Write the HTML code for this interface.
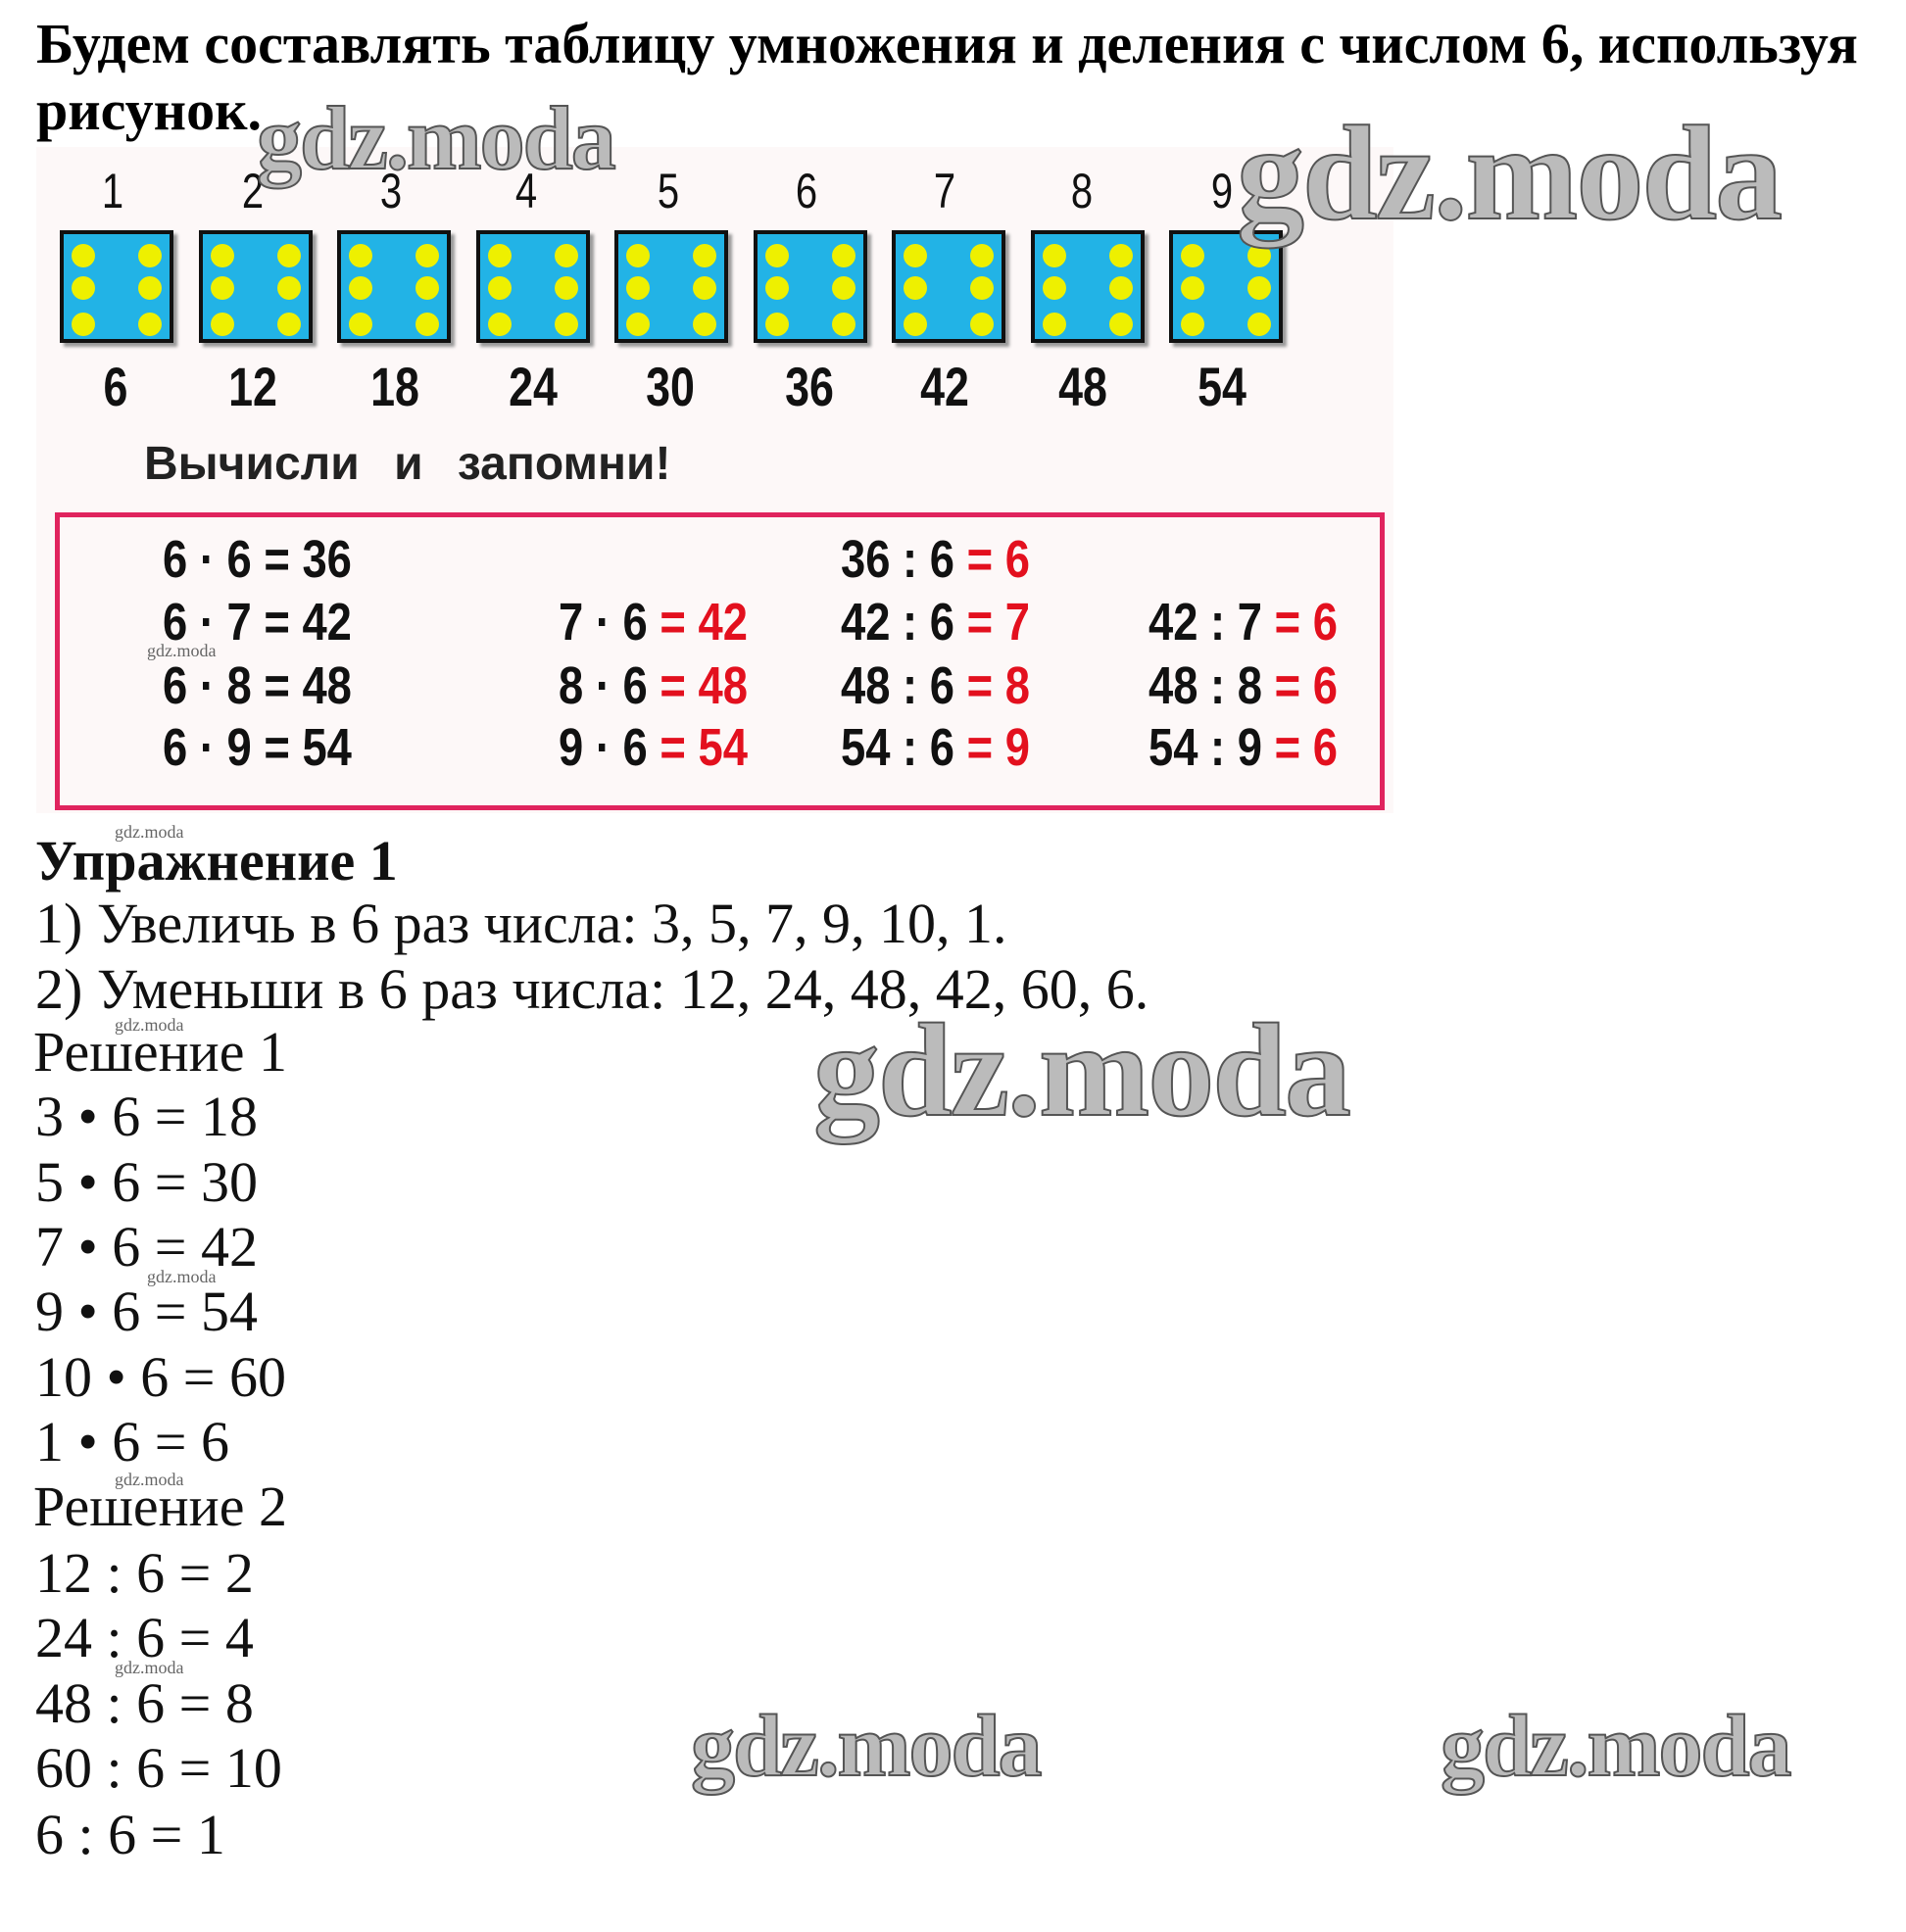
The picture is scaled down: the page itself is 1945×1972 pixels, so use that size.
<!DOCTYPE html>
<html><head><meta charset="utf-8"><style>
body{margin:0;width:1945px;height:1972px;background:#fff;position:relative;overflow:hidden;font-family:"Liberation Serif",serif}
.a{position:absolute;white-space:nowrap}
.t{font-weight:bold;font-size:58px;left:37px;line-height:1}
.s{font-size:58px;left:36px;line-height:1;color:#111}
.die{position:absolute;top:235px;width:108px;height:107px;background:#22b3e6;border:4px solid #111;box-shadow:4px 4px 3px #999}
.dot{position:absolute;width:24px;height:24px;border-radius:50%;background:#eef000}
.n{position:absolute;font-family:"Liberation Sans",sans-serif;font-size:50px;transform:translateX(-50%) scaleX(.8);color:#111}
.b{font-weight:bold;font-size:56px}
.e{position:absolute;font-family:"Liberation Sans",sans-serif;font-weight:bold;font-size:54px;transform:scaleX(.84);transform-origin:left;color:#111}
.r{color:#e3101e;font-weight:bold}
.w{position:absolute;font-family:"Liberation Serif",serif;font-weight:bold;color:#bbb;-webkit-text-stroke:2px #555;letter-spacing:-2px;line-height:1}
.ws{position:absolute;font-family:"Liberation Serif",serif;font-size:18px;color:#666;line-height:1}
</style></head><body>
<div style="position:absolute;left:37px;top:150px;width:1385px;height:680px;background:#fdf8f8"></div>
<div class="a t" style="top:16px;">Будем составлять таблицу умножения и деления с числом 6, используя</div>
<div class="a t" style="top:84px;">рисунок.</div>

<div class="n" style="left:115px;top:166px">1</div>
<div class="n" style="left:258px;top:166px">2</div>
<div class="n" style="left:399px;top:166px">3</div>
<div class="n" style="left:537px;top:166px">4</div>
<div class="n" style="left:682px;top:166px">5</div>
<div class="n" style="left:823px;top:166px">6</div>
<div class="n" style="left:964px;top:166px">7</div>
<div class="n" style="left:1104px;top:166px">8</div>
<div class="n" style="left:1247px;top:166px">9</div>

<div id="dice"></div>
<script>
var h='';for(var i=0;i<9;i++){var x=61+i*141.5;h+='<div class="die" style="left:'+x+'px">';
[[8,10],[8,43],[8,80],[76,10],[76,43],[76,80]].forEach(function(p){h+='<div class="dot" style="left:'+p[0]+'px;top:'+p[1]+'px"></div>'});h+='</div>';}
document.getElementById('dice').outerHTML=h;
</script>

<div class="n b" style="left:118px;top:362px">6</div>
<div class="n b" style="left:258px;top:362px">12</div>
<div class="n b" style="left:403px;top:362px">18</div>
<div class="n b" style="left:544px;top:362px">24</div>
<div class="n b" style="left:684px;top:362px">30</div>
<div class="n b" style="left:826px;top:362px">36</div>
<div class="n b" style="left:964px;top:362px">42</div>
<div class="n b" style="left:1105px;top:362px">48</div>
<div class="n b" style="left:1247px;top:362px">54</div>

<div class="a" style="left:147px;top:446px;font-family:'Liberation Sans',sans-serif;font-weight:bold;font-size:48px;color:#222;word-spacing:22px">Вычисли и запомни!</div>

<div style="position:absolute;left:56px;top:523px;width:1347px;height:294px;border:5px solid #e0245e"></div>

<div class="e" style="left:166px;top:540px">6 · 6 = 36</div>
<div class="e" style="left:166px;top:604px">6 · 7 = 42</div>
<div class="e" style="left:166px;top:669px">6 · 8 = 48</div>
<div class="e" style="left:166px;top:732px">6 · 9 = 54</div>
<div class="e" style="left:570px;top:604px">7 · 6 <span class="r">= 42</span></div>
<div class="e" style="left:570px;top:669px">8 · 6 <span class="r">= 48</span></div>
<div class="e" style="left:570px;top:732px">9 · 6 <span class="r">= 54</span></div>
<div class="e" style="left:858px;top:540px">36 : 6 <span class="r">= 6</span></div>
<div class="e" style="left:858px;top:604px">42 : 6 <span class="r">= 7</span></div>
<div class="e" style="left:858px;top:669px">48 : 6 <span class="r">= 8</span></div>
<div class="e" style="left:858px;top:732px">54 : 6 <span class="r">= 9</span></div>
<div class="e" style="left:1172px;top:604px">42 : 7 <span class="r">= 6</span></div>
<div class="e" style="left:1172px;top:669px">48 : 8 <span class="r">= 6</span></div>
<div class="e" style="left:1172px;top:732px">54 : 9 <span class="r">= 6</span></div>

<div class="a s" style="top:850px;font-weight:bold">Упражнение 1</div>
<div class="a s" style="top:914px">1) Увеличь в 6 раз числа: 3, 5, 7, 9, 10, 1.</div>
<div class="a s" style="top:981px">2) Уменьши в 6 раз числа: 12, 24, 48, 42, 60, 6.</div>
<div class="a s" style="top:1045px;left:34px">Решение 1</div>
<div class="a s" style="top:1111px">3 • 6 = 18</div>
<div class="a s" style="top:1178px">5 • 6 = 30</div>
<div class="a s" style="top:1244px">7 • 6 = 42</div>
<div class="a s" style="top:1310px">9 • 6 = 54</div>
<div class="a s" style="top:1377px">10 • 6 = 60</div>
<div class="a s" style="top:1443px">1 • 6 = 6</div>
<div class="a s" style="top:1509px;left:34px">Решение 2</div>
<div class="a s" style="top:1577px">12 : 6 = 2</div>
<div class="a s" style="top:1643px">24 : 6 = 4</div>
<div class="a s" style="top:1710px">48 : 6 = 8</div>
<div class="a s" style="top:1776px">60 : 6 = 10</div>
<div class="a s" style="top:1844px">6 : 6 = 1</div>

<div class="w" style="left:262px;top:95px;font-size:92px">gdz.moda</div>
<div class="w" style="left:1262px;top:108px;font-size:138px">gdz.moda</div>
<div class="w" style="left:830px;top:1025px;font-size:136px">gdz.moda</div>
<div class="w" style="left:705px;top:1738px;font-size:90px">gdz.moda</div>
<div class="w" style="left:1470px;top:1738px;font-size:90px">gdz.moda</div>
<div class="ws" style="left:150px;top:655px">gdz.moda</div>
<div class="ws" style="left:117px;top:840px">gdz.moda</div>
<div class="ws" style="left:117px;top:1037px">gdz.moda</div>
<div class="ws" style="left:150px;top:1294px">gdz.moda</div>
<div class="ws" style="left:117px;top:1501px">gdz.moda</div>
<div class="ws" style="left:117px;top:1693px">gdz.moda</div>
</body></html>
